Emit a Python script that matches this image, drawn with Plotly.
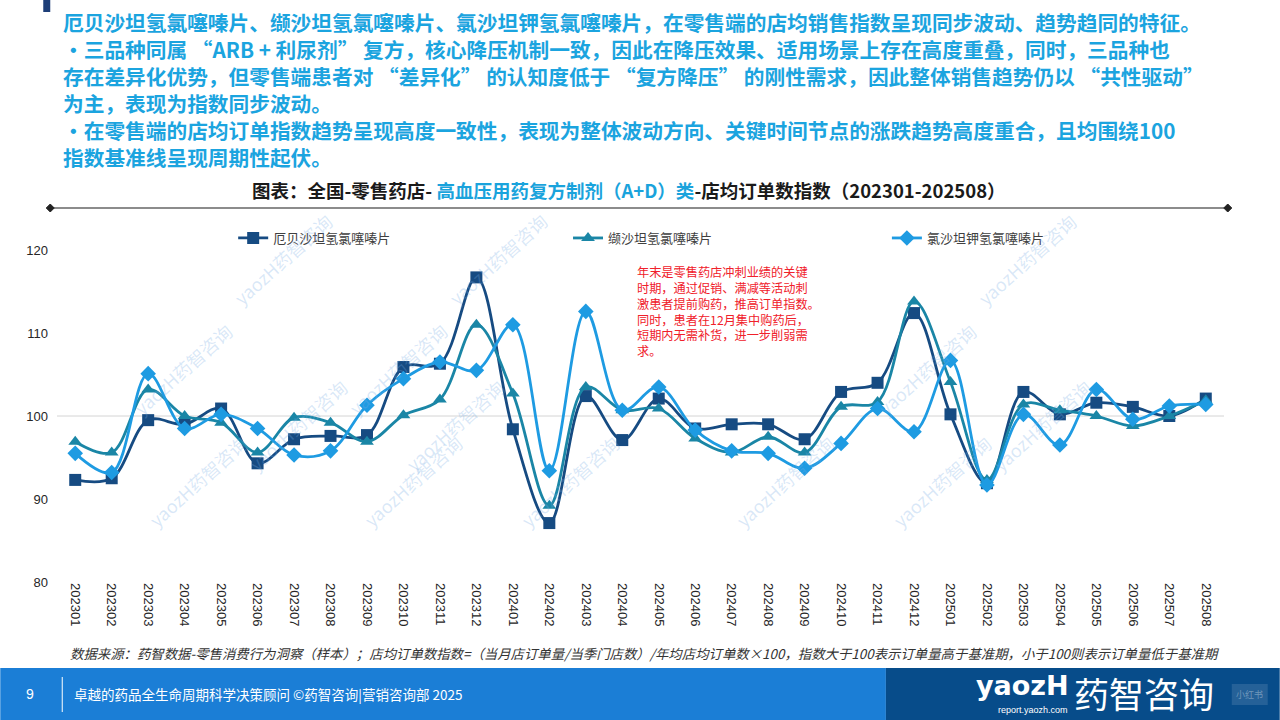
import plotly.graph_objects as go

# ---------------- data ----------------
months = ["202301","202302","202303","202304","202305","202306","202307","202308",
          "202309","202310","202311","202312","202401","202402","202403","202404",
          "202405","202406","202407","202408","202409","202410","202411","202412",
          "202501","202502","202503","202504","202505","202506","202507","202508"]

irbesartan = [92.3, 92.5, 99.5, 99.0, 100.9, 94.3, 97.2, 97.6,
              97.7, 105.9, 106.3, 116.7, 98.4, 87.1, 102.4, 97.1,
              102.1, 98.5, 99.0, 99.0, 97.2, 102.9, 104.0, 112.4,
              100.2, 91.9, 102.9, 100.2, 101.6, 101.1, 100.0, 102.1]

valsartan = [96.9, 95.6, 103.2, 100.0, 99.2, 95.6, 99.8, 99.2,
             96.9, 100.1, 102.0, 111.0, 102.7, 89.2, 103.5, 100.7,
             100.9, 97.3, 95.6, 97.5, 95.6, 101.1, 101.7, 113.8,
             104.1, 92.3, 101.4, 100.7, 100.0, 98.8, 100.0, 101.9]

losartan = [95.5, 93.2, 105.1, 98.5, 100.2, 98.5, 95.3, 95.8,
            101.3, 104.5, 106.5, 105.5, 111.0, 93.4, 112.6, 100.7,
            103.5, 98.3, 95.8, 95.5, 93.7, 96.7, 100.9, 98.1,
            106.7, 91.7, 100.2, 96.5, 103.2, 99.6, 101.2, 101.4]

series_names = ["厄贝沙坦氢氯噻嗪片", "缬沙坦氢氯噻嗪片", "氯沙坦钾氢氯噻嗪片"]
y_ticks = [80, 90, 100, 110, 120]
highlight_months = ["202312", "202412"]
highlight_centers = [113.1, 113.1]

OQ = " “"   # opening quote with extra spacing (full-width look)
CQ = "” "   # closing quote
header_lines = [
    "厄贝沙坦氢氯噻嗪片、缬沙坦氢氯噻嗪片、氯沙坦钾氢氯噻嗪片，在零售端的店均销售指数呈现同步波动、趋势趋同的特征。",
    "•三品种同属" + OQ + "ARB + 利尿剂" + CQ + "复方，核心降压机制一致，因此在降压效果、适用场景上存在高度重叠，同时，三品种也",
    "存在差异化优势，但零售端患者对" + OQ + "差异化" + CQ + "的认知度低于" + OQ + "复方降压" + CQ
    + "的刚性需求，因此整体销售趋势仍以" + OQ + "共性驱动" + CQ,
    "为主，表现为指数同步波动。",
    "•在零售端的店均订单指数趋势呈现高度一致性，表现为整体波动方向、关键时间节点的涨跌趋势高度重合，且均围绕100",
    "指数基准线呈现周期性起伏。",
]
note_lines = [
    "年末是零售药店冲刺业绩的关键",
    "时期，通过促销、满减等活动刺",
    "激患者提前购药，推高订单指数。",
    "同时，患者在12月集中购药后，",
    "短期内无需补货，进一步削弱需",
    "求。",
]
source_text = ("数据来源：药智数据-零售消费行为洞察（样本）；店均订单数指数=（当月店订单量/当季门店数）/年均店均订单数×100，"
               "指数大于100表示订单量高于基准期，小于100则表示订单量低于基准期")

# ---------------- layout geometry (pixels) ----------------
W, H = 1280, 720
L, R, T, B = 56.75, 1224.25, 250, 582

def px(x):
    return (x - L) / (R - L)

def py(y):
    return (B - y) / (B - T)

CJK = "Noto Sans CJK SC, Microsoft YaHei, sans-serif"
LAT = "Liberation Sans, Arial, Noto Sans CJK SC, sans-serif"

colors = ["#164B82", "#1A86A6", "#1E9BE2"]
symbols = ["square", "triangle-up", "diamond"]
values = [irbesartan, valsartan, losartan]
legends = ["legend", "legend2", "legend3"]

fig = go.Figure()
for name, vals, col, sym, lg in zip(series_names, values, colors, symbols, legends):
    fig.add_trace(go.Scatter(
        x=months, y=vals, name=name, mode="lines+markers",
        line=dict(color=col, width=2.8, shape="spline", smoothing=1),
        marker=dict(symbol=sym, size=12, color=col),
        legend=lg, cliponaxis=False,
    ))

shapes = []
annotations = []

# baseline at 100
shapes.append(dict(type="line", xref="paper", yref="y", x0=0, x1=1, y0=100, y1=100,
                   line=dict(color="#D4D4D4", width=1), layer="below"))

# highlight circles
for m, yc in zip(highlight_months, highlight_centers):
    shapes.append(dict(type="circle", xref="x", yref="y",
                       xsizemode="pixel", ysizemode="pixel",
                       xanchor=m, yanchor=yc, x0=-46, x1=46, y0=-47, y1=47,
                       fillcolor="rgba(214,234,251,0.55)",
                       line=dict(color="#E5323A", width=1.6, dash="dash"),
                       layer="above"))

# top-left small mark
shapes.append(dict(type="rect", xref="paper", yref="paper",
                   x0=px(43), x1=px(50), y0=py(0), y1=py(12),
                   fillcolor="#1D3E78", line=dict(width=0)))

# title separator line with diamond ends
shapes.append(dict(type="line", xref="paper", yref="paper",
                   x0=px(50), x1=px(1228), y0=py(208), y1=py(208),
                   line=dict(color="#8C8C8C", width=2)))
for cx in (50, 1228):
    d = 4
    path = (f"M {px(cx - d)} {py(208)} L {px(cx)} {py(208 - d)} "
            f"L {px(cx + d)} {py(208)} L {px(cx)} {py(208 + d)} Z")
    shapes.append(dict(type="path", xref="paper", yref="paper", path=path,
                       fillcolor="#222222", line=dict(color="#222222", width=1)))

# footer bars
shapes.append(dict(type="rect", xref="paper", yref="paper",
                   x0=px(0), x1=px(886), y0=py(668), y1=py(720),
                   fillcolor="#1B7ED6", line=dict(width=0)))
shapes.append(dict(type="rect", xref="paper", yref="paper",
                   x0=px(886), x1=px(1280), y0=py(668), y1=py(720),
                   fillcolor="#074C8A", line=dict(width=0)))
shapes.append(dict(type="line", xref="paper", yref="paper",
                   x0=px(62), x1=px(62), y0=py(677), y1=py(712),
                   line=dict(color="#FFFFFF", width=1)))
shapes.append(dict(type="rect", xref="paper", yref="paper",
                   x0=px(1232), x1=px(1268), y0=py(684), y1=py(705),
                   fillcolor="rgba(255,255,255,0.12)", line=dict(width=0)))

# watermarks (decorative, kept in the chart body and away from the note)
wm_points = []
for i, wy in enumerate(range(95, 640, 110)):
    wx = (-100 * i) % 215 + 110
    while wx < 1190:
        wm_points.append((wx, wy))
        wx += 215
for wx, wy in wm_points:
    if wy < 200:
        continue
    if 540 < wx < 910 and 180 < wy < 450:
        continue
    annotations.append(dict(xref="paper", yref="paper", x=px(wx), y=py(wy),
                            text="yaozH药智咨询", showarrow=False, textangle=-42,
                            font=dict(family=CJK, size=18, color="rgba(120,172,228,0.28)")))

# header text (one block, 6 lines)
annotations.append(dict(xref="paper", yref="paper", x=px(61), y=py(23 + 2.5 * 26.5),
                        xanchor="left", yanchor="middle", align="left", showarrow=False,
                        text="<br>".join(f"<b>{ln}</b>" for ln in header_lines),
                        font=dict(family=CJK, size=20.7, color="#1BA4DF")))

# chart title
annotations.append(dict(xref="paper", yref="paper", x=px(250), y=py(190),
                        xanchor="left", yanchor="middle", showarrow=False,
                        text=("<b>图表：全国-零售药店- <span style='color:#1AA3DC'>高血压用药复方制剂（A+D）类</span>"
                              "-店均订单数指数（202301-202508）</b>"),
                        font=dict(family=CJK, size=18.5, color="#1A1A1A")))

# red note (one block)
annotations.append(dict(xref="paper", yref="paper", x=px(635), y=py(311),
                        xanchor="left", yanchor="middle", align="left", showarrow=False,
                        text="<br>".join(note_lines),
                        font=dict(family=CJK, size=12.2, color="#F0202A")))

# source text
annotations.append(dict(xref="paper", yref="paper", x=px(68), y=py(653),
                        xanchor="left", yanchor="middle", showarrow=False,
                        text=f"<i>{source_text}</i>",
                        font=dict(family=CJK, size=13.4, color="#333333")))

# footer texts
annotations.append(dict(xref="paper", yref="paper", x=px(30), y=py(694),
                        xanchor="center", yanchor="middle", showarrow=False,
                        text="9", font=dict(family=LAT, size=14, color="#FFFFFF")))
annotations.append(dict(xref="paper", yref="paper", x=px(72), y=py(694),
                        xanchor="left", yanchor="middle", showarrow=False,
                        text="卓越的药品全生命周期科学决策顾问 ©药智咨询|营销咨询部 2025",
                        font=dict(family=CJK, size=13.5, color="#FFFFFF")))
annotations.append(dict(xref="paper", yref="paper", x=px(974), y=py(685),
                        xanchor="left", yanchor="middle", showarrow=False,
                        text="<b>yaozH</b>", font=dict(family="DejaVu Sans, sans-serif", size=27, color="#FFFFFF")))
annotations.append(dict(xref="paper", yref="paper", x=px(1072), y=py(692),
                        xanchor="left", yanchor="middle", showarrow=False,
                        text="药智咨询", font=dict(family=CJK, size=35, color="#FFFFFF")))
annotations.append(dict(xref="paper", yref="paper", x=px(996), y=py(710),
                        xanchor="left", yanchor="middle", showarrow=False,
                        text="report.yaozh.com", font=dict(family=LAT, size=9, color="#FFFFFF")))
annotations.append(dict(xref="paper", yref="paper", x=px(1250), y=py(694.5),
                        xanchor="center", yanchor="middle", showarrow=False,
                        text="小红书", font=dict(family=CJK, size=9, color="rgba(255,255,255,0.35)")))

legend_common = dict(orientation="h", yanchor="middle", xanchor="left",
                     bgcolor="rgba(0,0,0,0)", font=dict(family=CJK, size=13, color="#404040"),
                     itemwidth=30)

fig.update_layout(
    width=W, height=H,
    margin=dict(l=L, r=W - R, t=T, b=H - B, pad=0),
    paper_bgcolor="#FFFFFF", plot_bgcolor="rgba(0,0,0,0)",
    showlegend=True,
    legend=dict(x=px(233), y=py(238), **legend_common),
    legend2=dict(x=px(568), y=py(238), **legend_common),
    legend3=dict(x=px(887), y=py(238), **legend_common),
    xaxis=dict(type="category", categoryorder="array", categoryarray=months,
               tickangle=90, showgrid=False, showline=False, zeroline=False, ticks="",
               tickfont=dict(family=LAT, size=13, color="#262626"),
               range=[-0.5, len(months) - 0.5]),
    yaxis=dict(range=[80, 120], tickvals=y_ticks, showgrid=False, zeroline=False,
               showline=False, ticks="", tickfont=dict(family=LAT, size=13, color="#262626"),
               ticklabelstandoff=8),
    shapes=shapes, annotations=annotations,
)

fig.write_html("out.html")
